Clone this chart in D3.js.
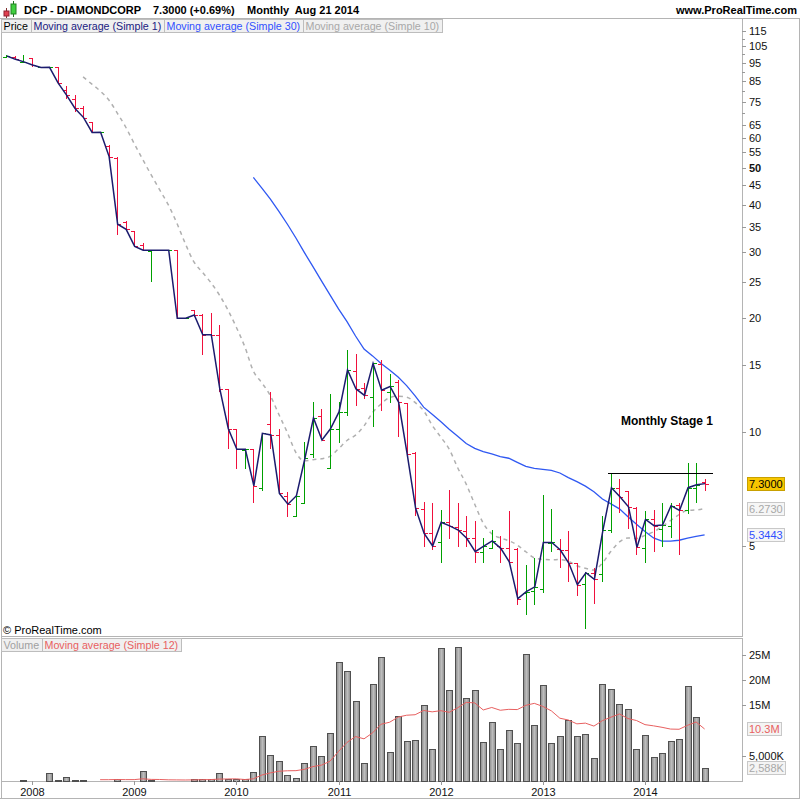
<!DOCTYPE html>
<html><head><meta charset="utf-8">
<script src="https://cdn.jsdelivr.net/npm/d3@7"></script>
<style>
body{margin:0;background:#fff}
svg{display:block}
text{font-family:"Liberation Sans",Arial,Helvetica,sans-serif}
</style>
</head><body>
<svg id="c" width="800" height="800"></svg>
<script>
// ---------------- DATA ----------------
const firstMonth = new Date(2007, 9, 1);   // Oct 2007
const lastMonth  = new Date(2014, 7, 1);   // Aug 2014
const opens  = [98.5,98.5,95.3,98.0,92.3,92.3,92.3,80.5,76.1,71.9,66.0,62.1,57.2,53.2,36.0,34.0,31.3,30.2,30.3,30.3,30.3,20.0,21.0,20.4,18.2,18.1,13.0,10.2,8.98,9.0,7.1,10.5,9.82,6.78,5.99,6.47,8.74,11.0,8.04,10.2,11.3,14.5,13.1,12.4,15.1,12.8,13.6,11.9,8.8,6.25,5.39,5.10,5.79,5.60,5.48,5.23,4.82,4.92,5.0,4.92,4.9,3.74,3.80,3.83,5.09,4.90,4.87,4.49,3.96,4.24,4.2,5.5,7.12,6.96,6.3,4.92,5.87,5.55,5.65,6.4,6.2,7.12,7.38];
const highs  = [99.5,98.8,99.6,98.0,92.3,92.5,92.4,82.6,78.1,73.1,66.2,62.3,57.4,53.4,36.1,34.1,31.6,30.4,30.35,30.35,30.4,20.05,21.1,20.5,20.7,19.2,13.0,10.2,9.0,9.0,9.92,12.8,10.2,6.95,6.78,9.43,12.0,11.5,12.6,12.0,16.5,16.1,13.5,15.2,15.5,14.2,13.7,11.95,8.85,6.53,6.5,6.22,7.02,6.5,5.99,5.81,5.23,5.5,5.3,6.16,4.92,4.44,4.63,6.8,6.25,5.2,5.46,4.49,4.27,4.36,5.99,7.77,7.5,6.98,6.34,6.18,6.23,6.49,6.5,6.49,8.26,8.26,7.5];
const lows   = [97.5,96.5,94.8,92.5,92.3,92.2,83.5,76.1,70.5,67.8,62.0,61.9,53.2,33.3,34.3,31.0,30.2,25.0,30.25,30.25,19.9,19.95,20.1,16.0,17.9,12.8,9.0,8.0,8.0,6.5,7.0,9.0,6.9,5.97,5.97,6.47,8.52,9.52,8.0,9.37,11.0,11.7,12.2,10.3,11.4,11.95,9.7,8.74,6.0,4.96,4.87,4.49,5.20,4.96,4.96,4.49,4.49,4.92,4.49,4.49,3.48,3.28,3.48,3.75,4.82,4.36,4.0,3.69,3.0,3.5,4.0,5.41,6.1,5.53,4.72,4.49,4.82,4.96,5.23,4.72,6.08,6.49,7.0];
const closes = [99.0,97.0,95.5,93.7,92.3,92.4,84.0,78.0,71.9,68.0,62.1,62.2,53.6,35.5,34.4,31.0,30.3,30.3,30.3,30.3,20.0,20.0,20.4,18.1,18.1,13.0,10.2,9.0,9.0,7.2,9.92,9.82,6.88,6.44,6.78,8.52,10.9,9.52,10.2,11.3,14.6,13.0,12.5,15.2,12.9,13.2,12.0,8.76,6.28,5.39,4.99,5.77,5.64,5.50,5.23,4.82,4.99,5.15,4.92,4.53,3.62,3.78,3.89,5.10,5.10,4.87,4.49,3.94,4.24,4.07,5.50,7.12,6.74,6.34,4.95,5.87,5.65,5.67,6.38,6.20,7.12,7.25,7.30];
const volumesM = [0,0,0.2,0,0,1.5,0.2,0.8,0.2,0.2,0,0,0,0.4,0,0,1.9,0.1,0,0,0,0,0.3,0.4,0.3,1.5,0.3,0.3,0.3,1.8,9.0,5.1,3.9,1.1,0.6,3.5,6.9,4.9,9.6,23.5,21.8,15.8,3.5,19.3,24.5,5.7,12.9,7.9,8.1,15.0,6.3,26.3,18.0,26.5,16.4,18.0,7.7,11.6,6.3,10.1,7.5,25.1,11.0,19.0,7.5,9.0,12.1,8.9,9.4,4.6,19.3,18.2,15.2,14.2,6.3,9.2,4.7,5.5,7.9,8.4,18.8,12.6,2.588];

const priceTickLabels = [115,105,95,85,75,65,60,55,50,45,40,35,30,25,20,15,10,5];
const priceMinorTicks = [110,100,90,80,70];
const volumeTickValues = [25,20,15,5];
const volumeTickLabels = ["25M","20M","15M","5,000K"];
const years = [2008,2009,2010,2011,2012,2013,2014];

const resistanceLevel = 7.78;
const resistanceFrom = new Date(2013, 7, 20);
const resistanceTo = new Date(2014, 8, 1);

const titleParts = ["DCP - DIAMONDCORP", "7.3000 (+0.69%)", "Monthly  Aug 21 2014"];
const annotation = "Monthly Stage 1";

// --------------- HELPERS ---------------
const months = d3.timeMonth.range(firstMonth, d3.timeMonth.offset(lastMonth, 1));
const mIndex = d => (d.getFullYear() - 2008) * 12 + d.getMonth() + d.getDate() / 31 - 1 / 31;
const bars = months.map((d, i) => ({date: d, m: mIndex(d), o: opens[i], h: highs[i], l: lows[i], c: closes[i], v: volumesM[i]}));

function sma(arr, n) {
  return arr.map((v, i) => i < n - 1 ? null : d3.mean(arr.slice(i - n + 1, i + 1)));
}
const sma10 = sma(closes, 10), sma30 = sma(closes, 30), vma12 = sma(volumesM, 12);

// --------------- LAYOUT ---------------
const L = 1, R = 742, PT = 18, PB = 636, VT = 638, VB = 781;
const x = d3.scaleLinear().domain([0, 72]).range([32, 645]);
const y = d3.scaleLog().domain([2.883, 124.8]).range([PB, PT]);
const yv = d3.scaleLinear().domain([0, 25]).range([VB, VB - 126.25]);

const svg = d3.select("#c");
const RED = "#f0103c", GREEN = "#00a000";

// frame
const frame = svg.append("g").attr("stroke", "#b4b4b4").attr("fill", "none").attr("shape-rendering", "crispEdges");
frame.append("line").attr("x1", 0).attr("x2", 800).attr("y1", 18.5).attr("y2", 18.5);
frame.append("line").attr("x1", 1.5).attr("x2", 1.5).attr("y1", 18).attr("y2", 799);
frame.append("line").attr("x1", 799.5).attr("x2", 799.5).attr("y1", 18).attr("y2", 799);
frame.append("line").attr("x1", 0).attr("x2", 800).attr("y1", 798.5).attr("y2", 798.5);
frame.append("line").attr("x1", R + 0.5).attr("x2", R + 0.5).attr("y1", PT).attr("y2", PB + 1);
frame.append("line").attr("x1", L).attr("x2", R).attr("y1", PB + 0.5).attr("y2", PB + 0.5);
frame.append("line").attr("x1", L).attr("x2", R).attr("y1", VT + 0.5).attr("y2", VT + 0.5);
frame.append("line").attr("x1", R + 0.5).attr("x2", R + 0.5).attr("y1", VT).attr("y2", VB + 1);
frame.append("line").attr("x1", L).attr("x2", R).attr("y1", VB + 0.5).attr("y2", VB + 0.5);

// header
const icon = svg.append("g");
icon.append("line").attr("x1", 6.5).attr("x2", 6.5).attr("y1", 8).attr("y2", 18).attr("stroke", "#803030");
icon.append("rect").attr("x", 4).attr("y", 11).attr("width", 5).attr("height", 5).attr("fill", "#e04050").attr("stroke", "#902030");
icon.append("line").attr("x1", 13.5).attr("x2", 13.5).attr("y1", 1).attr("y2", 17).attr("stroke", "#207020");
icon.append("rect").attr("x", 11).attr("y", 4).attr("width", 5).attr("height", 10).attr("fill", "#40d040").attr("stroke", "#208020");
const hdr = svg.append("text").attr("y", 14).attr("font-size", 11).attr("font-weight", "bold").attr("fill", "#000");
hdr.append("tspan").attr("x", 24).text(titleParts[0]);
hdr.append("tspan").attr("x", 153).text(titleParts[1]);
hdr.append("tspan").attr("x", 247).style("white-space", "pre").text(titleParts[2]);
svg.append("text").attr("x", 797).attr("y", 14).attr("text-anchor", "end").attr("font-size", 11).attr("font-weight", "bold").text("www.ProRealTime.com");

// legend helper
function legend(items, top) {
  let xx = L;
  items.forEach(it => {
    const g = svg.append("g");
    const r = g.append("rect").attr("y", top + 0.5).attr("height", 13).attr("fill", "#f0f0f0").attr("stroke", "#bdbdbd").attr("shape-rendering", "crispEdges");
    const t = g.append("text").attr("x", xx + 2.5).attr("y", top + 11).attr("font-size", 10.7).attr("fill", it.color).text(it.text);
    const w = Math.round(t.node().getComputedTextLength() + 5.5);
    r.attr("x", xx + 0.5).attr("width", w);
    xx += w;
  });
}

// price panel
svg.append("clipPath").attr("id", "pc").append("rect").attr("x", L + 1).attr("y", PT + 1).attr("width", R - L - 1).attr("height", PB - PT - 1);
const pg = svg.append("g").attr("clip-path", "url(#pc)");

// SMA10 dashed
pg.append("path").datum(bars.map((b, i) => [b.m, sma10[i]]).filter(d => d[1] != null))
  .attr("fill", "none").attr("stroke", "#b0b0b0").attr("stroke-width", 1.5).attr("stroke-dasharray", "4,4")
  .attr("d", d3.line().x(d => x(d[0])).y(d => y(d[1])).curve(d3.curveMonotoneX));
// SMA30
pg.append("path").datum(bars.map((b, i) => [b.m, sma30[i]]).filter(d => d[1] != null))
  .attr("fill", "none").attr("stroke", "#2f58f2").attr("stroke-width", 1.3)
  .attr("d", d3.line().x(d => x(d[0])).y(d => y(d[1])));

// OHLC bars
const bg = pg.append("g").attr("shape-rendering", "crispEdges");
bars.forEach(b => {
  const col = b.c >= b.o ? GREEN : RED;
  const cx = Math.round(x(b.m)) + 0.5;
  if (b.h - b.l > 0.001) bg.append("line").attr("x1", cx).attr("x2", cx).attr("y1", y(b.h)).attr("y2", y(b.l)).attr("stroke", col).attr("stroke-width", 1.3);
  bg.append("line").attr("x1", cx - 3.5).attr("x2", cx).attr("y1", Math.round(y(b.o)) + 0.5).attr("y2", Math.round(y(b.o)) + 0.5).attr("stroke", col).attr("stroke-width", 1.3);
  bg.append("line").attr("x1", cx).attr("x2", cx + 3.5).attr("y1", Math.round(y(b.c)) + 0.5).attr("y2", Math.round(y(b.c)) + 0.5).attr("stroke", col).attr("stroke-width", 1.3);
});

// close line (SMA 1)
pg.append("path").datum(bars).attr("fill", "none").attr("stroke", "#1c1c6e").attr("stroke-width", 1.5)
  .attr("d", d3.line().x(d => x(d.m) + 0.5).y(d => y(d.c)));

// resistance line
pg.append("line").attr("x1", x(mIndex(resistanceFrom))).attr("x2", x(mIndex(resistanceTo)))
  .attr("y1", Math.round(y(resistanceLevel)) + 0.5).attr("y2", Math.round(y(resistanceLevel)) + 0.5)
  .attr("stroke", "#000").attr("stroke-width", 1.2).attr("shape-rendering", "crispEdges");

svg.append("text").attr("x", 621).attr("y", 425).attr("font-size", 12).attr("font-weight", "bold").text(annotation);

legend([
  {text: "Price", color: "#000"},
  {text: "Moving average (Simple 1)", color: "#202080"},
  {text: "Moving average (Simple 30)", color: "#3050ff"},
  {text: "Moving average (Simple 10)", color: "#a8a8a8"}
], 19);

svg.append("text").attr("x", 3).attr("y", 634).attr("font-size", 11).text("\u00a9 ProRealTime.com");

// price axis
const pa = svg.append("g");
priceTickLabels.forEach(v => {
  const yy = Math.round(y(v)) + 0.5;
  pa.append("line").attr("x1", R).attr("x2", R + 4).attr("y1", yy).attr("y2", yy).attr("stroke", "#999").attr("shape-rendering", "crispEdges");
  pa.append("text").attr("x", 749).attr("y", yy).attr("dy", "0.35em").attr("font-size", 11)
    .attr("font-weight", v === 50 ? "bold" : "normal").attr("fill", "#111").text(v);
});
priceMinorTicks.forEach(v => {
  const yy = Math.round(y(v)) + 0.5;
  pa.append("line").attr("x1", R).attr("x2", R + 3).attr("y1", yy).attr("y2", yy).attr("stroke", "#999").attr("shape-rendering", "crispEdges");
});

function valueBox(val, txt, fill, stroke, color) {
  const yy = y(val);
  const g = svg.append("g");
  const r = g.append("rect").attr("x", 747.5).attr("y", Math.round(yy - 6.5) + 0.5).attr("height", 13).attr("fill", fill).attr("stroke", stroke).attr("shape-rendering", "crispEdges");
  const t = g.append("text").attr("x", 749).attr("y", Math.round(yy - 6.5) + 11).attr("font-size", 11).attr("fill", color).text(txt);
  r.attr("width", t.node().getComputedTextLength() + 3);
}
const lastI = bars.length - 1;
valueBox(sma10[lastI], sma10[lastI].toFixed(4), "#f6f6f6", "#c8c8c8", "#a8a8a8");
valueBox(sma30[lastI], sma30[lastI].toFixed(4), "#f6f6f6", "#c8c8c8", "#3050ff");
valueBox(closes[lastI], closes[lastI].toFixed(4), "#f7c600", "#c8a000", "#000");

// volume panel
const defs = svg.append("defs");
const grad = defs.append("linearGradient").attr("id", "vg").attr("x1", 0).attr("x2", 1).attr("y1", 0).attr("y2", 0);
grad.append("stop").attr("offset", "0%").attr("stop-color", "#8a8a8a");
grad.append("stop").attr("offset", "50%").attr("stop-color", "#bdbdbd");
grad.append("stop").attr("offset", "100%").attr("stop-color", "#8a8a8a");

const vg = svg.append("g");
bars.filter(b => b.v > 0).forEach(b => {
  const cx = Math.round(x(b.m));
  const top = Math.round(yv(b.v));
  vg.append("rect").attr("x", cx - 2.5).attr("y", top + 0.5).attr("width", 6).attr("height", Math.max(0.5, VB - top - 0.5))
    .attr("fill", "url(#vg)").attr("stroke", "#505050").attr("stroke-width", 1).attr("shape-rendering", "crispEdges");
});
vg.append("path").datum(bars.map((b, i) => [b.m, vma12[i]]).filter(d => d[1] != null))
  .attr("fill", "none").attr("stroke", "#e86060").attr("stroke-width", 1)
  .attr("d", d3.line().x(d => x(d[0])).y(d => yv(d[1])));

legend([
  {text: "Volume", color: "#a0a0a0"},
  {text: "Moving average (Simple 12)", color: "#e86060"}
], 638);

const va = svg.append("g");
volumeTickValues.forEach((v, i) => {
  const yy = Math.round(yv(v)) + 0.5;
  va.append("line").attr("x1", R).attr("x2", R + 4).attr("y1", yy).attr("y2", yy).attr("stroke", "#999").attr("shape-rendering", "crispEdges");
  va.append("text").attr("x", 749).attr("y", yy).attr("dy", "0.35em").attr("font-size", 11).attr("fill", "#111").text(volumeTickLabels[i]);
});
function vBox(val, txt, color) {
  const yy = yv(val);
  const g = svg.append("g");
  const r = g.append("rect").attr("x", 747.5).attr("y", Math.round(yy - 6.5) + 0.5).attr("height", 13).attr("fill", "#f4f4f4").attr("stroke", "#c8c8c8").attr("shape-rendering", "crispEdges");
  const t = g.append("text").attr("x", 749).attr("y", Math.round(yy - 6.5) + 11).attr("font-size", 11).attr("fill", color).text(txt);
  r.attr("width", t.node().getComputedTextLength() + 3);
}
vBox(vma12[lastI], vma12[lastI].toFixed(1) + "M", "#e86060");
vBox(volumesM[lastI], d3.format(",")(Math.round(volumesM[lastI] * 1000)) + "K", "#a8a8a8");

// x axis
const xa = svg.append("g");
years.forEach(yr => {
  const xx = Math.round(x((yr - 2008) * 12)) + 0.5;
  xa.append("line").attr("x1", xx).attr("x2", xx).attr("y1", VB).attr("y2", VB + 4).attr("stroke", "#999").attr("shape-rendering", "crispEdges");
  xa.append("text").attr("x", xx).attr("y", 796).attr("text-anchor", "middle").attr("font-size", 11).attr("fill", "#111").text(yr);
});
</script>
</body></html>
